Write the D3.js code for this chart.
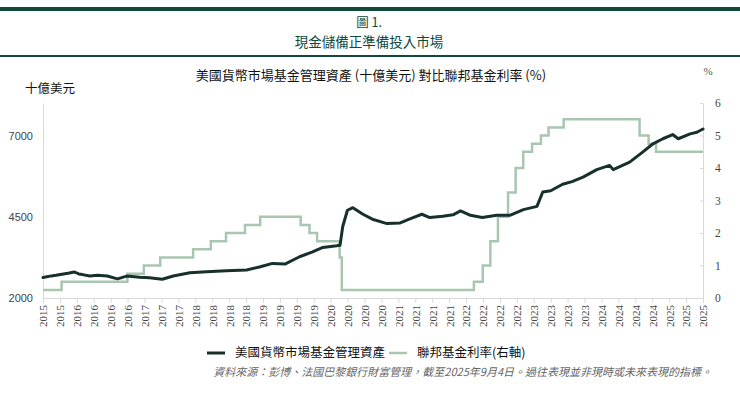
<!DOCTYPE html>
<html>
<head>
<meta charset="utf-8">
<script src="https://cdn.jsdelivr.net/npm/d3@7"></script>
<style>
  body { margin: 0; background: #fff; }
  svg { display: block; font-family: "Noto Sans CJK TC", "Noto Sans", sans-serif; }
</style>
</head>
<body>
<script>
// 美國貨幣市場基金管理資產 (十億美元)
const aumDates = ["2015-09-04","2015-10-20","2015-11-15","2016-01-20","2016-02-25","2016-03-20","2016-04-10","2016-05-20","2016-07-01","2016-08-25",
  "2016-10-20","2016-12-10","2017-02-20","2017-04-15","2017-06-25","2017-08-25","2017-11-25","2018-02-25","2018-06-15","2018-10-05",
  "2018-12-20","2019-02-25","2019-05-05","2019-07-25","2019-10-05","2019-12-01","2020-02-15","2020-03-05","2020-03-20","2020-04-15",
  "2020-05-15","2020-07-10","2020-09-05","2020-11-20","2021-02-01","2021-03-30","2021-06-01","2021-07-15","2021-09-25","2021-11-20",
  "2022-01-01","2022-02-25","2022-05-01","2022-07-20","2022-10-01","2022-12-15","2023-02-28","2023-04-01","2023-05-15","2023-07-20",
  "2023-09-10","2023-11-10","2024-01-25","2024-04-05","2024-04-25","2024-07-25","2024-10-05","2024-12-01","2025-01-25","2025-03-20",
  "2025-04-20","2025-06-25","2025-08-01","2025-09-04"];
const aumValues = [2630,2680,2700,2760,2800,2740,2720,2675,2700,2675,
  2590,2675,2635,2620,2575,2675,2775,2805,2840,2860,
  2960,3065,3045,3270,3420,3555,3605,3620,4200,4700,
  4780,4577,4414,4290,4310,4445,4577,4475,4515,4560,
  4680,4545,4475,4545,4545,4720,4820,5260,5300,5500,
  5580,5720,5950,6080,5950,6180,6490,6745,6900,7030,
  6900,7050,7100,7200];

// 聯邦基金利率 (%) — 每次變動的日期與新利率
const fedDates = ["2015-09-04","2015-12-16","2016-12-14","2017-03-15","2017-06-14","2017-12-13","2018-03-21","2018-06-13","2018-09-26","2018-12-19",
  "2019-07-31","2019-09-18","2019-10-30","2020-03-03","2020-03-15","2022-03-16","2022-05-04","2022-06-15","2022-07-27","2022-09-21",
  "2022-11-02","2022-12-14","2023-02-01","2023-03-22","2023-05-03","2023-07-26","2024-09-18","2024-11-07","2024-12-18","2025-09-04"];
const fedValues = [0.25,0.5,0.75,1.0,1.25,1.5,1.75,2.0,2.25,2.5,
  2.25,2.0,1.75,1.25,0.25,0.5,1.0,1.75,2.5,3.25,
  4.0,4.5,4.75,5.0,5.25,5.5,5.0,4.75,4.5,4.5];

const xTickLabels = ["2015","2015","2016","2016","2016","2016","2017","2017","2017","2018",
  "2018","2018","2018","2019","2019","2019","2019","2020","2020","2020",
  "2020","2021","2021","2021","2021","2022","2022","2022","2022","2023",
  "2023","2023","2023","2024","2024","2024","2024","2025","2025","2025"];
const leftTicks = [2000, 4500, 7000];
const rightTicks = [0, 1, 2, 3, 4, 5, 6];

const width = 740, height = 398;
const dark = "#0f4a3b";
const aumColor = "#17302b";
const fedColor = "#a9c6b1";
const axisColor = "#d9d9d9";

const parse = d3.timeParse("%Y-%m-%d");
const aum = aumDates.map((d, i) => ({date: parse(d), value: aumValues[i]}));
const fed = fedDates.map((d, i) => ({date: parse(d), value: fedValues[i]}));

const plot = {left: 43, right: 703, top: 103, bottom: 298};

const x = d3.scaleTime()
    .domain([parse("2015-09-04"), parse("2025-09-04")])
    .range([plot.left, plot.right]);
const yLeft = d3.scaleLinear().domain([2000, 8000]).range([plot.bottom, plot.top]);
const yRight = d3.scaleLinear().domain([0, 6]).range([plot.bottom, plot.top]);

const svg = d3.select("body").append("svg")
    .attr("width", width)
    .attr("height", height);

// 標題區
svg.append("rect").attr("x", 0).attr("y", 7).attr("width", width).attr("height", 4).attr("fill", dark);
svg.append("rect").attr("x", 0).attr("y", 55).attr("width", width).attr("height", 2).attr("fill", dark);

svg.append("text")
    .attr("x", 369).attr("y", 27)
    .attr("text-anchor", "middle")
    .attr("fill", dark)
    .style("font-size", "12.5px")
    .text("圖 1.");
svg.append("text")
    .attr("x", 369).attr("y", 47)
    .attr("text-anchor", "middle")
    .attr("fill", dark)
    .style("font-size", "13.5px")
    .text("現金儲備正準備投入市場");

svg.append("text")
    .attr("x", 371).attr("y", 80)
    .attr("text-anchor", "middle")
    .attr("fill", "#111")
    .style("font-size", "13px")
    .text("美國貨幣市場基金管理資產 (十億美元) 對比聯邦基金利率 (%)");

svg.append("text")
    .attr("x", 25).attr("y", 93)
    .attr("fill", "#111")
    .style("font-size", "12.5px")
    .text("十億美元");

svg.append("text")
    .attr("x", 708).attr("y", 75)
    .attr("text-anchor", "middle")
    .attr("fill", "#555")
    .style("font-family", "'Liberation Serif', serif")
    .style("font-size", "11px")
    .text("%");

// 座標軸
const xTicks = d3.range(xTickLabels.length).map(i =>
  new Date(+x.domain()[0] + i * (x.domain()[1] - x.domain()[0]) / (xTickLabels.length - 1)));

const xAxis = g => g
    .attr("transform", `translate(0,${plot.bottom})`)
    .call(d3.axisBottom(x).tickValues(xTicks).tickFormat((d, i) => xTickLabels[i]).tickSize(5).tickPadding(3))
    .call(g => g.select(".domain").attr("stroke", axisColor))
    .call(g => g.selectAll(".tick line").attr("stroke", axisColor))
    .call(g => g.selectAll(".tick text")
        .attr("fill", "#444")
        .style("font-family", "'Liberation Serif', serif")
        .style("font-size", "11px")
        .attr("text-anchor", "end")
        .attr("transform", "rotate(-90)")
        .attr("x", -7).attr("y", 0).attr("dy", "0.35em"));

const yLeftAxis = g => g
    .attr("transform", `translate(${plot.left},0)`)
    .call(d3.axisLeft(yLeft).tickValues(leftTicks).tickFormat(d3.format("d"))
        .tickSize(0).tickPadding(10).tickSizeOuter(0))
    .call(g => g.select(".domain").attr("stroke", axisColor))
    .call(g => g.selectAll(".tick text")
        .attr("fill", "#444")
        .style("font-family", "'Liberation Sans', sans-serif")
        .style("font-size", "11px"));

const yRightAxis = g => g
    .attr("transform", `translate(${plot.right},0)`)
    .call(d3.axisRight(yRight).tickValues(rightTicks).tickFormat(d3.format("d"))
        .tickSize(-3).tickPadding(12).tickSizeOuter(0))
    .call(g => g.select(".domain").attr("stroke", axisColor))
    .call(g => g.selectAll(".tick line").attr("stroke", axisColor))
    .call(g => g.selectAll(".tick text")
        .attr("fill", "#444")
        .style("font-family", "'Liberation Serif', serif")
        .style("font-size", "11.5px"));

svg.append("g").call(xAxis);
svg.append("g").call(yLeftAxis);
svg.append("g").call(yRightAxis);

// 線條
const fedLine = d3.line()
    .curve(d3.curveStepAfter)
    .x(d => x(d.date))
    .y(d => yRight(d.value));

const aumLine = d3.line()
    .x(d => x(d.date))
    .y(d => yLeft(d.value));

svg.append("path")
    .datum(fed)
    .attr("fill", "none")
    .attr("stroke", fedColor)
    .attr("stroke-width", 2.5)
    .attr("d", fedLine);

svg.append("path")
    .datum(aum)
    .attr("fill", "none")
    .attr("stroke", aumColor)
    .attr("stroke-width", 3)
    .attr("stroke-linejoin", "round")
    .attr("stroke-linecap", "round")
    .attr("d", aumLine);

// 圖例
const legend = svg.append("g").attr("transform", "translate(207,353)");
const legendItems = [
  {label: "美國貨幣市場基金管理資產", color: aumColor, width: 3, x: 0},
  {label: "聯邦基金利率(右軸)", color: fedColor, width: 2.5, x: 182}
];
legendItems.forEach(d => {
  legend.append("line")
      .attr("x1", d.x).attr("x2", d.x + 18)
      .attr("stroke", d.color)
      .attr("stroke-width", d.width);
  legend.append("text")
      .attr("x", d.x + 28).attr("dy", "0.35em")
      .attr("fill", "#111")
      .style("font-size", "12.5px")
      .text(d.label);
});

// 資料來源
svg.append("text")
    .attr("x", 712).attr("y", 376)
    .attr("text-anchor", "end")
    .attr("fill", "#666")
    .style("font-size", "11px")
    .style("font-style", "italic")
    .text("資料來源：彭博、法國巴黎銀行財富管理，截至2025年9月4日。過往表現並非現時或未來表現的指標。");
</script>
</body>
</html>
